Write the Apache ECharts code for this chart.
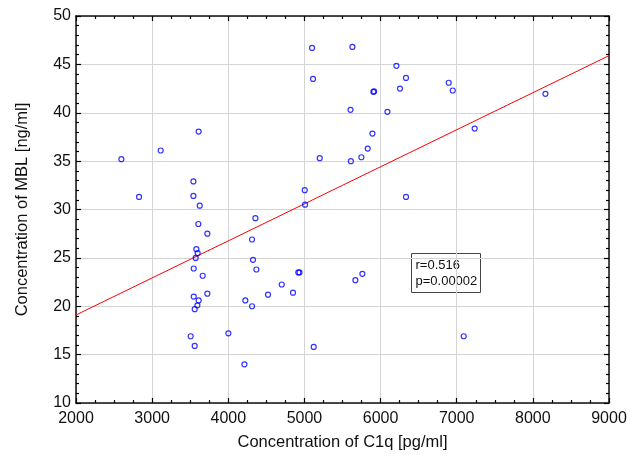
<!DOCTYPE html>
<html>
<head>
<meta charset="utf-8">
<script src="https://cdn.jsdelivr.net/npm/echarts@6/dist/echarts.min.js"></script>
<style>html,body{margin:0;padding:0;background:#fff}#c{width:644px;height:462px}</style>
</head>
<body>
<div id="c"></div>
<script>
const c1q = [5100,5113,5605,3611,3112,2596,5201,5610,3542,2828,3542,3625,5004,5008,5630,6208,6334,5905,5915,6255,6895,6948,6090,8165,5893,5831,5748,7236,6334,4356,3607,3725,4312,3581,3598,3572,4325,3546,4369,3664,4920,4935,4702,4850,4522,3725,3546,3611,3594,3559,4224,4312,4001,3506,3559,4212,5122,5669,5761,7092];
const mbl = [46.7,43.5,40.3,38.05,36.1,35.2,35.3,35.0,32.9,31.3,31.4,30.4,32.0,30.5,46.8,44.85,43.6,42.16,42.2,42.5,43.1,42.3,40.1,41.96,37.85,36.3,35.4,38.36,31.3,29.1,28.5,27.5,26.9,25.9,25.5,25.0,24.8,23.9,23.8,23.15,23.5,23.5,22.25,21.4,21.2,21.3,21.0,20.6,20.1,19.7,20.6,20.0,17.2,16.9,15.9,14.0,15.8,22.7,23.35,16.9];
const fitX = [2000, 9000];
const fitY = [19.1, 45.9];
const xTicks = [2000, 9000, 1000];
const yTicks = [10, 50, 5];
const statsLines = ['r=0.516', 'p=0.00002'];
const xTitle = 'Concentration of C1q [pg/ml]';
const yTitle = 'Concentration of MBL [ng/ml]';

const font = 'Liberation Sans, Arial, sans-serif';
const chart = echarts.init(document.getElementById('c'), null, {renderer: 'canvas'});
function tick() { return {show: true, inside: true, length: 5, lineStyle: {color: '#000', width: 1.2}}; }
function minor(n) { return {show: true, splitNumber: n, length: 3, lineStyle: {color: '#000', width: 1.2}}; }
function xAxis(pos, main) {
  return {
    type: 'value', position: pos, min: xTicks[0], max: xTicks[1], interval: xTicks[2],
    name: main ? xTitle : '', nameLocation: 'middle', nameGap: 31,
    nameTextStyle: {fontFamily: font, fontSize: 16.5, color: '#111'},
    axisLine: {show: true, onZero: false, lineStyle: {color: '#111', width: 1.5}},
    axisTick: tick(),
    minorTick: minor(4),
    axisLabel: {show: main, fontFamily: font, fontSize: 16, color: '#111', margin: 8, formatter: v => String(v)},
    splitLine: {show: main, lineStyle: {color: '#d4d4d4', width: 1}},
    z: 5
  };
}
function yAxis(pos, main) {
  return {
    type: 'value', position: pos, min: yTicks[0], max: yTicks[1], interval: yTicks[2],
    name: main ? yTitle : '', nameLocation: 'middle', nameGap: 45,
    nameTextStyle: {fontFamily: font, fontSize: 16.5, color: '#111'},
    axisLine: {show: true, onZero: false, lineStyle: {color: '#111', width: 1.5}},
    axisTick: tick(),
    minorTick: minor(5),
    axisLabel: {show: main, fontFamily: font, fontSize: 16, color: '#111', margin: 5, formatter: v => String(v)},
    splitLine: {show: main, lineStyle: {color: '#d4d4d4', width: 1}},
    z: 5
  };
}
chart.setOption({
  animation: false,
  backgroundColor: '#fff',
  grid: {left: 76, right: 35, top: 16, bottom: 59, containLabel: false, outerBoundsMode: 'none'},
  xAxis: [xAxis('bottom', true), xAxis('top', false)],
  yAxis: [yAxis('left', true), yAxis('right', false)],
  series: [
    {
      type: 'line', xAxisIndex: 0, yAxisIndex: 0,
      data: fitX.map((x, i) => [x, fitY[i]]),
      showSymbol: false, symbol: 'none',
      lineStyle: {color: '#ff0000', width: 1}, z: 9
    },
    {
      type: 'scatter', xAxisIndex: 0, yAxisIndex: 0,
      data: c1q.map((x, i) => [x, mbl[i]]),
      symbol: 'circle', symbolSize: 5,
      itemStyle: {color: 'rgba(255,255,255,0)', borderColor: '#0000ff', borderWidth: 1.2}, z: 10
    }
  ],
  graphic: [
    {
      type: 'group', left: 411, top: 253, z: 20,
      children: [
        {type: 'rect', shape: {x: 0, y: 0, width: 69, height: 39}, style: {fill: '#fff', stroke: '#444', lineWidth: 1}},
        {type: 'text', style: {x: 4, y: 4, text: statsLines.join('\n'), font: '13px ' + font, fill: '#111', lineHeight: 16}}
      ]
    }
  ]
});
</script>
</body>
</html>
